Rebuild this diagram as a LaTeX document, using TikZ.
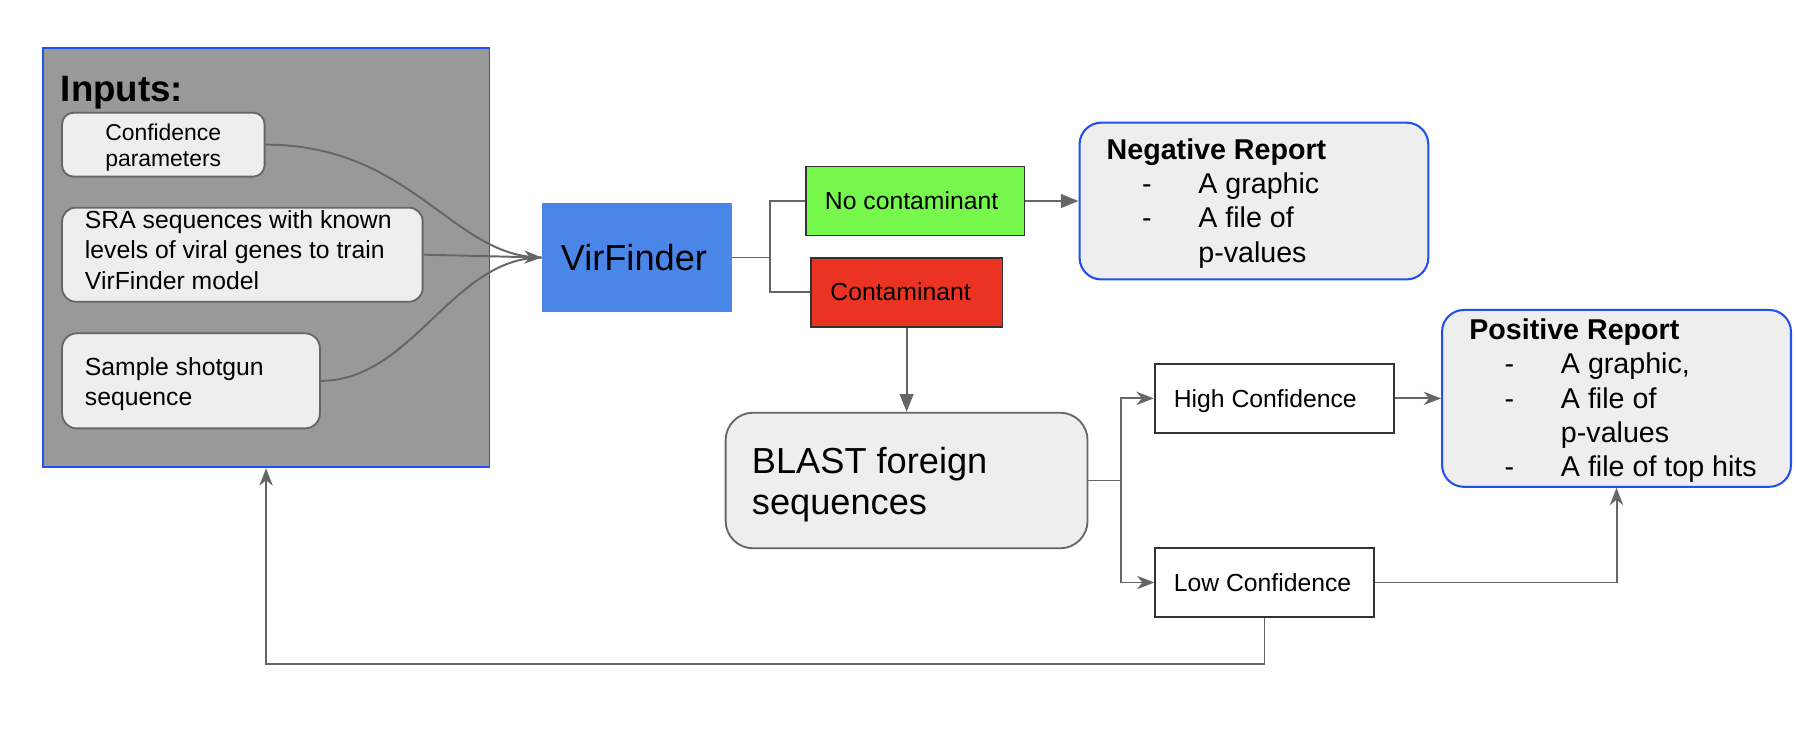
\documentclass[tikz,border=0pt]{standalone}
\usepackage{fontspec}
\setmainfont{Liberation Sans}
\usetikzlibrary{arrows.meta}
\definecolor{lineg}{HTML}{666666}
\definecolor{boxfill}{HTML}{EEEEEE}
\definecolor{inpfill}{HTML}{999999}
\definecolor{bordblue}{HTML}{2150F0}
\definecolor{vblue}{HTML}{4A86E8}
\definecolor{cgreen}{HTML}{76F84D}
\definecolor{cred}{HTML}{EA3323}
\definecolor{darkb}{HTML}{333333}
\newcommand{\litem}[1]{\hspace*{35pt}\makebox[0pt]{-}\hspace*{45pt}#1}
\newcommand{\lcont}[1]{\hspace*{80pt}#1}
\begin{document}
\begin{tikzpicture}[x=1pt,y=-1pt,
  conn/.style={draw=lineg, line width=1.7pt},
  arr/.style={conn, -{Stealth[length=15pt,width=11.5pt,inset=4.5pt]}},
  tarr/.style={conn, -{Triangle[length=15.5pt,width=12pt]}},
  gbox/.style={draw=lineg, fill=boxfill, line width=1.6pt, inner sep=0},
  rbox/.style={draw=bordblue, fill=boxfill, line width=1.8pt, rounded corners=19pt, inner sep=0},
  plainbox/.style={draw=darkb, line width=1.8pt, inner sep=0},
  txt/.style={inner sep=0, anchor=base west, align=left},
  smallf/.style={font=\fontsize{21.6}{26.6}\selectfont},
  bigf/.style={font=\fontsize{31.6}{36.3}\selectfont},
  repf/.style={font=\fontsize{25}{30}\selectfont}
]
\useasboundingbox (0,0) rectangle (1568,657);
\fill[white] (0,0) rectangle (1568,657);

% Inputs group (text anchors below sit on the baseline of the LAST line)
\node[draw=bordblue, fill=inpfill, line width=1.6pt, inner sep=0,
      minimum width=390.2pt, minimum height=365.8pt] (inputs) at (232.3,225.1) {};
\node[txt, font=\fontsize{32}{38}\selectfont\bfseries] (tinp) at (52.9,88.2) {Inputs:};

\node[gbox, rounded corners=10pt, minimum width=176.8pt, minimum height=55.8pt] (conf) at (142.6,126.3) {};
\node[inner sep=0, anchor=base, align=center, font=\fontsize{20}{22.7}\selectfont] (tconf) at (142.5,145.5) {Confidence\\parameters};

\node[gbox, rounded corners=12pt, minimum width=314.8pt, minimum height=82.1pt] (sra) at (211.6,222.35) {};
\node[txt, smallf] (tsra) at (74,252.6) {SRA sequences with known\\levels of viral genes to train\\VirFinder model};

\node[gbox, rounded corners=13pt, minimum width=225.1pt, minimum height=83pt] (sample) at (166.75,332.5) {};
\node[txt, font=\fontsize{21.6}{26.2}\selectfont] (tsample) at (74,353.6) {Sample shotgun\\sequence};

% VirFinder
\node[fill=vblue, inner sep=0, minimum width=165.9pt, minimum height=94.6pt] (vir) at (556.05,224.8) {};
\node[inner sep=0, anchor=base, bigf] (tvir) at (553.4,236.3) {VirFinder};

\draw[conn] (conf.east) .. controls (360,126.3) and (395,224.8) .. (vir.west);
\draw[conn] (sample.east) .. controls (360,332.5) and (395,224.8) .. (vir.west);
\draw[arr] (sra.east) -- (vir.west);

% Contaminant decision
\node[draw=darkb, fill=cgreen, line width=1.6pt, inner sep=0, minimum width=190.8pt, minimum height=60.3pt] (noc) at (799,175.5) {};
\node[txt, smallf] (tnoc) at (720,183.3) {No contaminant};
\node[draw=darkb, fill=cred, line width=1.6pt, inner sep=0, minimum width=167.5pt, minimum height=60.2pt] (con) at (791.5,255.1) {};
\node[txt, smallf] (tcon) at (724.8,262.5) {Contaminant};

\coordinate (vb) at (672.3,224.8);
\draw[conn] (vir.east) -- (vb);
\draw[conn] (vb) |- (noc.west);
\draw[conn] (vb) |- (con.west);

% Negative report
\node[rbox, minimum width=304.5pt, minimum height=136.9pt] (neg) at (1094.75,175.5) {};
\node[txt, repf] (tneg) at (966,229) {\textbf{Negative Report}\\\litem{A graphic}\\\litem{A file of}\\\lcont{p-values}};
\draw[tarr] (noc.east) -- (neg.west);

% BLAST
\node[gbox, rounded corners=24pt, minimum width=316pt, minimum height=118.4pt] (blast) at (791.5,419.5) {};
\node[txt, bigf] (tblast) at (656.3,449.6) {BLAST foreign\\sequences};
\draw[tarr] (con.south) -- (blast.north);

% Confidence levels
\node[plainbox, fill=white, minimum width=208.8pt, minimum height=59.8pt] (high) at (1112.6,347.8) {};
\node[txt, smallf] (thigh) at (1024.6,355.6) {High Confidence};
\node[plainbox, fill=white, minimum width=190.5pt, minimum height=59.7pt] (low) at (1103.95,508.55) {};
\node[txt, smallf] (tlow) at (1024.6,516.6) {Low Confidence};

\coordinate (bb) at (978.6,419.5);
\draw[conn] (blast.east) -- (bb);
\draw[arr] (bb) |- (high.west);
\draw[arr] (bb) |- (low.west);

% Positive report
\node[rbox, minimum width=304.6pt, minimum height=154.4pt] (pos) at (1411.3,347.8) {};
\node[txt, repf] (tpos) at (1282.6,416.3) {\textbf{Positive Report}\\\litem{A graphic,}\\\litem{A file of}\\\lcont{p-values}\\\litem{A file of top hits}};
\draw[arr] (high.east) -- (pos.west);
\draw[arr] (low.east) -| (pos.south);

% Feedback loop
\coordinate (fb) at (232.3,580);
\draw[arr] (low.south) |- (fb) -- (inputs.south);
\end{tikzpicture}
\end{document}
